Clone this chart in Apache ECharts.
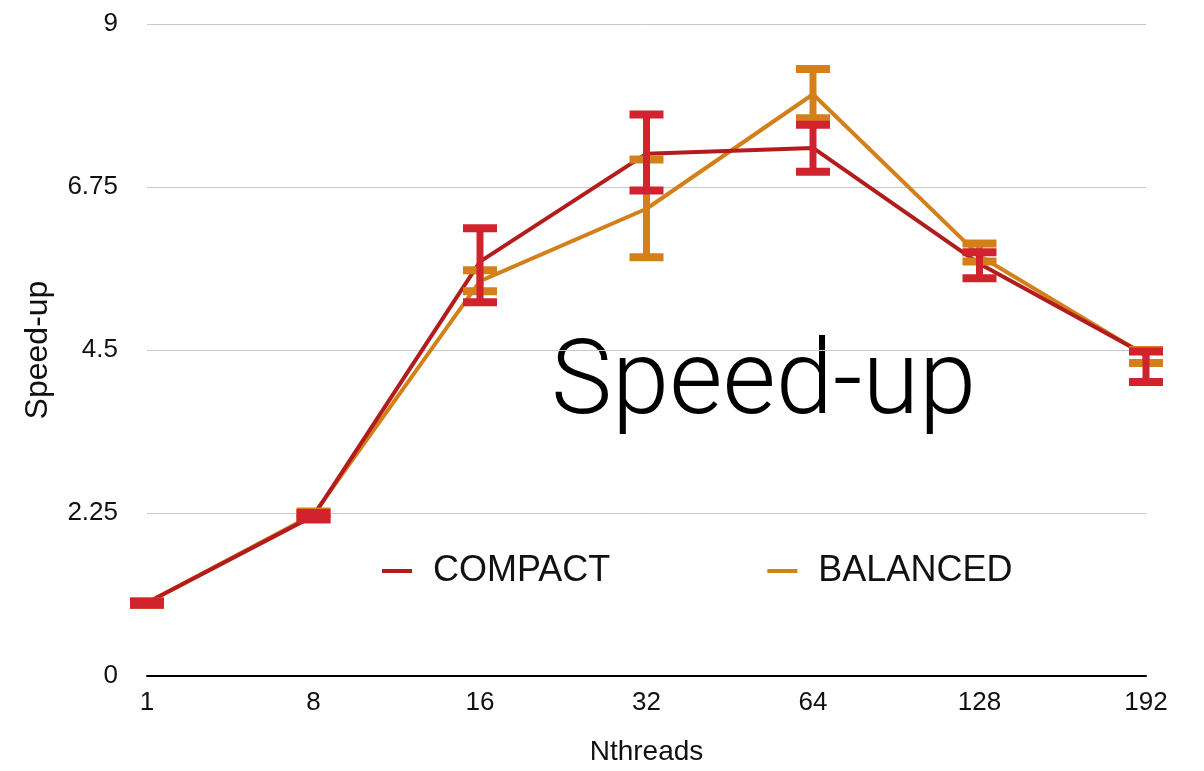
<!DOCTYPE html>
<html>
<head>
<meta charset="utf-8">
<script src="https://cdn.jsdelivr.net/npm/echarts@6/dist/echarts.min.js"></script>
<style>
html,body{margin:0;padding:0;background:#fff;overflow:hidden;}
#chart{width:1204px;height:771px;}
</style>
</head>
<body>
<div id="chart"></div>
<script>
const categories = ['1', '8', '16', '32', '64', '128', '192'];
const yTicks = [0, 2.25, 4.5, 6.75, 9];

const compact     = [1.01, 2.21, 5.72, 7.21, 7.29, 5.69, 4.43];
const compactLow  = [0.985, 2.16, 5.16, 6.70, 6.96, 5.49, 4.06];
const compactHigh = [1.03, 2.25, 6.18, 7.75, 7.61, 5.85, 4.48];

const balanced     = [1.01, 2.23, 5.45, 6.45, 8.03, 5.80, 4.42];
const balancedLow  = [0.985, 2.17, 5.31, 5.78, 7.70, 5.72, 4.32];
const balancedHigh = [1.03, 2.27, 5.60, 7.13, 8.38, 5.97, 4.50];

const FONT = "'Liberation Sans', Arial, Helvetica, sans-serif";

function errData(lo, hi) {
  return categories.map((c, i) => [i, lo[i], hi[i]]);
}

function renderErr(params, api) {
  const i = api.value(0);
  const lo = api.coord([i, api.value(1)]);
  const hi = api.coord([i, api.value(2)]);
  const color = api.visual('color');
  return {
    type: 'group',
    children: [
      { type: 'rect', shape: { x: lo[0] - 3.5, y: hi[1], width: 7, height: lo[1] - hi[1] }, style: { fill: color } },
      { type: 'rect', shape: { x: hi[0] - 17, y: hi[1] - 4, width: 34, height: 8 }, style: { fill: color } },
      { type: 'rect', shape: { x: lo[0] - 17, y: lo[1] - 4, width: 34, height: 8 }, style: { fill: color } }
    ]
  };
}

const chart = echarts.init(document.getElementById('chart'), null, { renderer: 'canvas' });
chart.setOption({
  animation: false,
  backgroundColor: '#ffffff',
  grid: { left: 147, right: 58, top: 24, bottom: 91, containLabel: false },
  legend: {
    data: ['COMPACT', 'BALANCED'],
    left: 382,
    top: 553,
    padding: 0,
    icon: 'rect',
    itemWidth: 30,
    itemHeight: 4,
    itemGap: 157,
    textStyle: { fontFamily: FONT, fontSize: 36, color: '#111', padding: [0, 0, 0, 16] }
  },
  graphic: [{
    type: 'text',
    left: 551,
    top: 336,
    style: {
      text: 'Speed-up',
      font: "300 103px Roboto, 'Liberation Sans', sans-serif",
      fill: '#000'
    }
  }],
  xAxis: {
    type: 'category',
    data: categories,
    boundaryGap: false,
    name: 'Nthreads',
    nameLocation: 'middle',
    nameGap: 62,
    nameTextStyle: { fontFamily: FONT, fontSize: 28, color: '#111' },
    axisLine: { show: true, lineStyle: { color: '#000', width: 2 } },
    axisTick: { show: false },
    axisLabel: { fontFamily: FONT, fontSize: 26, color: '#111', margin: 14 },
    splitLine: { show: false }
  },
  yAxis: {
    type: 'value',
    min: yTicks[0],
    max: yTicks[yTicks.length - 1],
    interval: yTicks[1] - yTicks[0],
    name: 'Speed-up',
    nameLocation: 'middle',
    nameGap: 93,
    nameTextStyle: { fontFamily: FONT, fontSize: 32, color: '#111' },
    axisLine: { show: false },
    axisTick: { show: false },
    axisLabel: { fontFamily: FONT, fontSize: 26, color: '#111', margin: 29 },
    splitLine: { show: true, lineStyle: { color: '#c8c8c8', width: 1 } }
  },
  series: [
    {
      name: 'BALANCED', type: 'line', data: balanced, z: 2,
      showSymbol: false, symbol: 'none',
      color: '#d4801a',
      lineStyle: { color: '#d4801a', width: 4 },
      itemStyle: { color: '#d4801a' }
    },
    {
      name: 'COMPACT', type: 'line', data: compact, z: 3,
      showSymbol: false, symbol: 'none',
      color: '#b31c1c',
      lineStyle: { color: '#b31c1c', width: 4 },
      itemStyle: { color: '#b31c1c' }
    },
    {
      name: 'BALANCED err', type: 'custom', z: 4,
      itemStyle: { color: '#d4801a' },
      renderItem: renderErr,
      encode: { x: 0, y: [1, 2] },
      data: errData(balancedLow, balancedHigh)
    },
    {
      name: 'COMPACT err', type: 'custom', z: 5,
      itemStyle: { color: '#d0232d' },
      renderItem: renderErr,
      encode: { x: 0, y: [1, 2] },
      data: errData(compactLow, compactHigh)
    }
  ]
});
</script>
</body>
</html>
